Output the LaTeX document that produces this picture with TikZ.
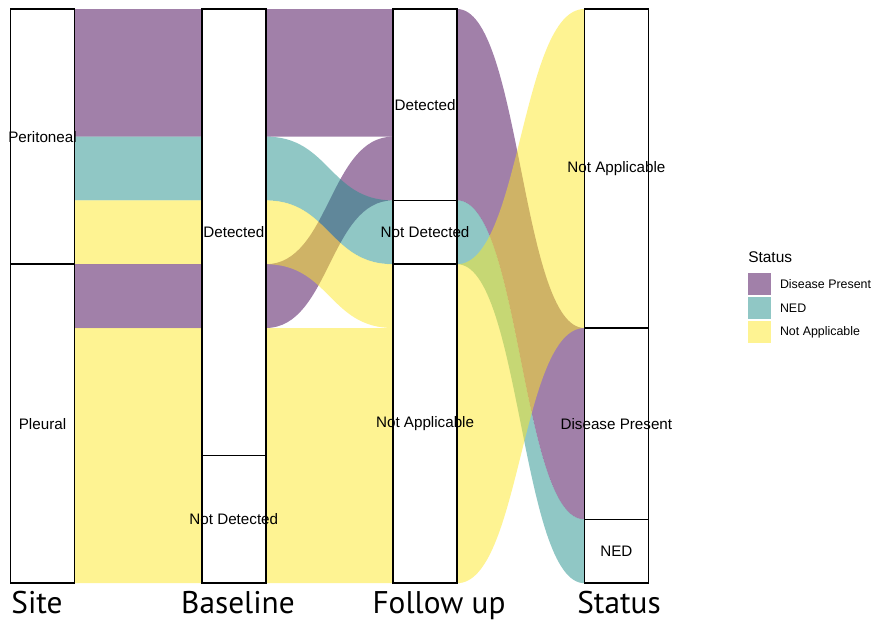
\documentclass[tikz,border=0pt]{standalone}
\usepackage{fontspec}
\setmainfont{Liberation Sans}
\newfontfamily\axisfont{PT Sans}
\usetikzlibrary{positioning}
\definecolor{dpcol}{HTML}{440154}
\definecolor{nedcol}{HTML}{21908C}
\definecolor{nacol}{HTML}{FDE725}
\tikzset{
  flow/.style={fill=#1, fill opacity=0.5},
  stratum/.style={draw=black, fill=white, line width=1.1pt, inner sep=0pt, minimum width=48pt},
  stratlabel/.style={font=\fontsize{11.4}{13}\selectfont, inner sep=0pt},
  axislabel/.style={font=\axisfont\fontsize{23.5}{27}\selectfont, anchor=base, inner sep=0pt},
  legkey/.style={fill=#1, fill opacity=0.5, minimum width=17pt, minimum height=17pt, inner sep=0pt},
  legtext/.style={font=\fontsize{9.3}{11}\selectfont, inner sep=0pt}
}
% band from axis #2 to axis #2+1: top lode #3 -> #4, #5 units thick
\newcommand{\band}[5]{%
  \pgfmathsetmacro\bxa{74.5+191.3*#2}
  \pgfmathsetmacro\bxb{\bxa+127.3}
  \pgfmathsetmacro\bxm{\bxa+63.65}
  \pgfmathsetmacro\bya{9+63.8*#3}
  \pgfmathsetmacro\byb{9+63.8*#4}
  \pgfmathsetmacro\byc{\bya+63.8*#5}
  \pgfmathsetmacro\byd{\byb+63.8*#5}
  \fill[flow=#1] (\bxa-8,\bya) -- (\bxa,\bya) .. controls (\bxm,\bya) and (\bxm,\byb) .. (\bxb,\byb)
    -- (\bxb+8,\byb) -- (\bxb+8,\byd) -- (\bxb,\byd) .. controls (\bxm,\byd) and (\bxm,\byc) .. (\bxa,\byc)
    -- (\bxa-8,\byc) -- cycle;
}
% stratum name, axis, first lode, units, text
\newcommand{\stratum}[5]{%
  \node[stratum, minimum height=#4*47.85pt] (#1) at ({42.5+191.3*#2},{9+63.8*(#3+#4/2)}) {};
  \node[stratlabel] (#1-text) at (#1.center) {#5};
}
\begin{document}
\begin{tikzpicture}[x=0.75pt, y=-0.75pt]
  \useasboundingbox (0,0) rectangle (872,622);

  \band{dpcol}{0}{0}{0}{2}
  \band{nedcol}{0}{2}{2}{1}
  \band{nacol}{0}{3}{3}{1}
  \band{dpcol}{0}{4}{4}{1}
  \band{nacol}{0}{5}{5}{4}

  \band{dpcol}{1}{0}{0}{2}
  \band{dpcol}{1}{4}{2}{1}
  \band{nedcol}{1}{2}{3}{1}
  \band{nacol}{1}{3}{4}{1}
  \band{nacol}{1}{5}{5}{4}

  \band{dpcol}{2}{0}{5}{3}
  \band{nedcol}{2}{3}{8}{1}
  \band{nacol}{2}{4}{0}{5}

  \stratum{site-per}{0}{0}{4}{Peritoneal}
  \stratum{site-ple}{0}{4}{5}{Pleural}
  \stratum{base-det}{1}{0}{7}{Detected}
  \stratum{base-nd}{1}{7}{2}{Not Detected}
  \stratum{fu-det}{2}{0}{3}{Detected}
  \stratum{fu-nd}{2}{3}{1}{Not Detected}
  \stratum{fu-na}{2}{4}{5}{Not Applicable}
  \stratum{st-na}{3}{0}{5}{Not Applicable}
  \stratum{st-dp}{3}{5}{3}{Disease Present}
  \stratum{st-ned}{3}{8}{1}{NED}

  \node[axislabel] (ax-site) at (37,613) {Site};
  \node[axislabel] (ax-base) at (238,613) {Baseline};
  \node[axislabel] (ax-fu)   at (439,613) {Follow up};
  \node[axislabel] (ax-st)   at (619,613) {Status};

  \node[font=\fontsize{11.6}{13}\selectfont, anchor=west, inner sep=0pt] (leg-title) at (748,257) {Status};
  \node[legkey=dpcol]                    (key-dp)  at (759.5,284) {};
  \node[legkey=nedcol, below=0.6pt of key-dp]  (key-ned) {};
  \node[legkey=nacol,  below=0.6pt of key-ned] (key-na)  {};
  \node[legtext, right=6.5pt of key-dp]  (lab-dp)  {Disease Present};
  \node[legtext, right=6.5pt of key-ned] (lab-ned) {NED};
  \node[legtext, right=6.5pt of key-na]  (lab-na)  {Not Applicable};
\end{tikzpicture}
\end{document}
